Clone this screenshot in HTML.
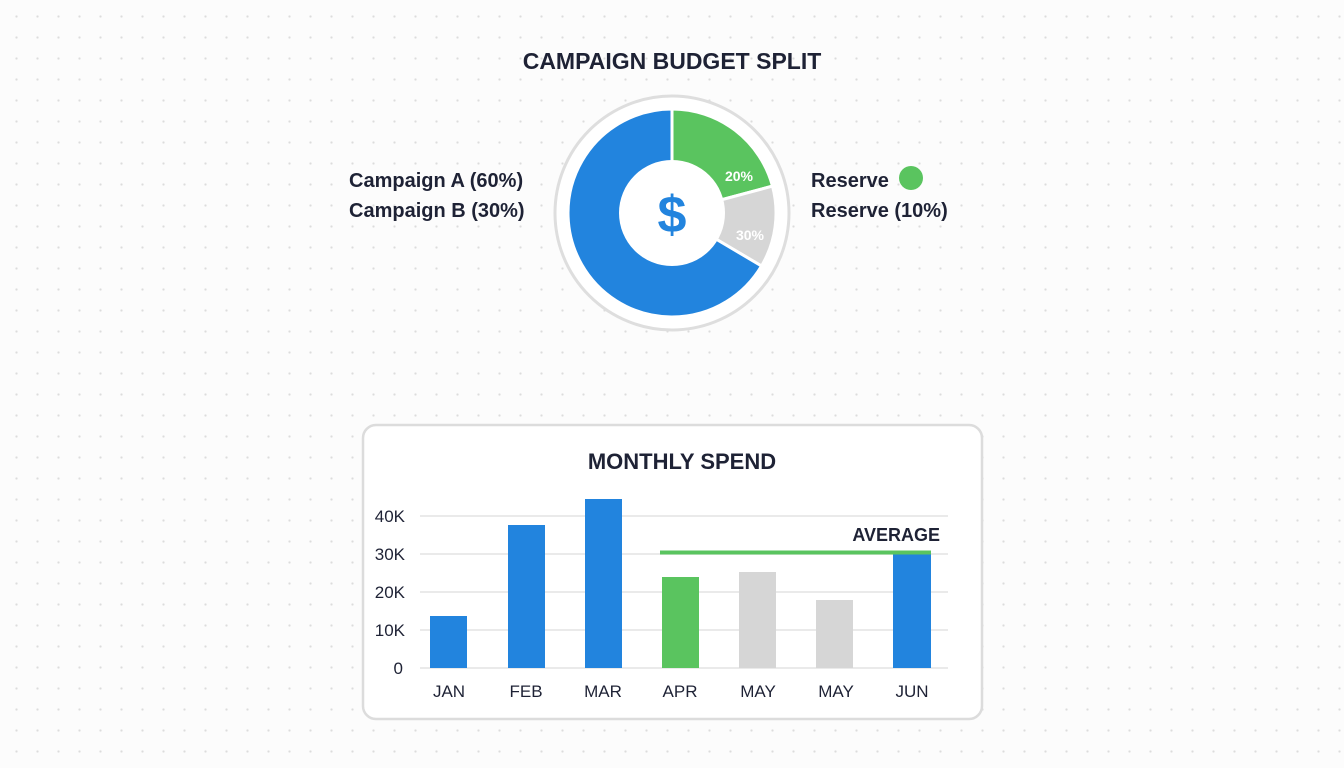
<!DOCTYPE html>
<html><head><meta charset="utf-8"><style>
html,body{margin:0;padding:0}
body{width:1344px;height:768px;position:relative;overflow:hidden;background:#fcfcfc;
background-image:radial-gradient(circle,#dcdcdc 1px,transparent 1.3px);background-size:21px 21px;background-position:6px 6px;
font-family:"Liberation Sans",sans-serif;color:#1e2235}
.t{position:absolute;font-weight:bold;white-space:nowrap}
</style></head><body>
<div class="t" style="left:0;width:1344px;text-align:center;top:48px;font-size:23px;">CAMPAIGN BUDGET SPLIT</div>
<div class="t" style="left:349px;top:166px;font-size:20px;font-weight:600;line-height:30px">Campaign A (60%)<br>Campaign B (30%)</div>
<div class="t" style="left:811px;top:166px;font-size:20px;font-weight:600;line-height:30px">Reserve<br>Reserve (10%)</div>
<div style="position:absolute;left:899px;top:166px;width:24px;height:24px;border-radius:50%;background:#5ac45f"></div>
<svg style="position:absolute;left:0;top:0" width="1344" height="768">
<circle cx="672" cy="213" r="117" fill="#fff" stroke="#dedede" stroke-width="3"/>
<g stroke="#fff" stroke-width="3">
<path d="M672,213 L672,109 A104,104 0 0 1 772.5,186.1 Z" fill="#5ac45f"/>
<path d="M672,213 L772.5,186.1 A104,104 0 0 1 761.5,266 Z" fill="#d6d6d6"/>
<path d="M672,213 L761.5,266 A104,104 0 1 1 672,109 Z" fill="#2284de"/>
</g>
<circle cx="672" cy="213" r="53" fill="#fff"/>
<text x="672" y="232" text-anchor="middle" font-family="Liberation Sans" font-weight="bold" font-size="52" fill="#2284de">$</text>
<text x="739" y="181" text-anchor="middle" font-family="Liberation Sans" font-weight="bold" font-size="14" fill="#fff">20%</text>
<text x="750" y="240" text-anchor="middle" font-family="Liberation Sans" font-weight="bold" font-size="14" fill="#fff">30%</text>
<rect x="363" y="425" width="619" height="294" rx="13" fill="#fff" stroke="#dcdcdc" stroke-width="2.5"/>
<text x="682" y="469" text-anchor="middle" font-family="Liberation Sans" font-weight="bold" font-size="22" fill="#1e2235">MONTHLY SPEND</text>
<g stroke="#e4e4e4" stroke-width="1.5">
<line x1="420" y1="516" x2="948" y2="516"/><line x1="420" y1="554" x2="948" y2="554"/>
<line x1="420" y1="592" x2="948" y2="592"/><line x1="420" y1="630" x2="948" y2="630"/>
<line x1="420" y1="668" x2="948" y2="668"/>
</g>
<g font-family="Liberation Sans" font-size="17" fill="#1e2235" text-anchor="end">
<text x="405" y="522">40K</text><text x="405" y="560">30K</text><text x="405" y="598">20K</text><text x="405" y="636">10K</text><text x="403" y="674">0</text>
</g>
<rect x="430" y="616" width="37" height="52" fill="#2284de"/>
<rect x="508" y="525" width="37" height="143" fill="#2284de"/>
<rect x="585" y="499" width="37" height="169" fill="#2284de"/>
<rect x="662" y="577" width="37" height="91" fill="#5ac45f"/>
<rect x="739" y="572" width="37" height="96" fill="#d6d6d6"/>
<rect x="816" y="600" width="37" height="68" fill="#d6d6d6"/>
<rect x="893" y="553" width="38" height="115" fill="#2284de"/>
<line x1="660" y1="552.5" x2="931" y2="552.5" stroke="#5ac45f" stroke-width="4"/>
<text x="940" y="541" text-anchor="end" font-family="Liberation Sans" font-size="18" font-weight="600" fill="#1e2235">AVERAGE</text>
<g font-family="Liberation Sans" font-size="17" fill="#1e2235" text-anchor="middle">
<text x="449" y="697">JAN</text><text x="526" y="697">FEB</text><text x="603" y="697">MAR</text><text x="680" y="697">APR</text><text x="758" y="697">MAY</text><text x="836" y="697">MAY</text><text x="912" y="697">JUN</text>
</g>
</svg>
</body></html>
